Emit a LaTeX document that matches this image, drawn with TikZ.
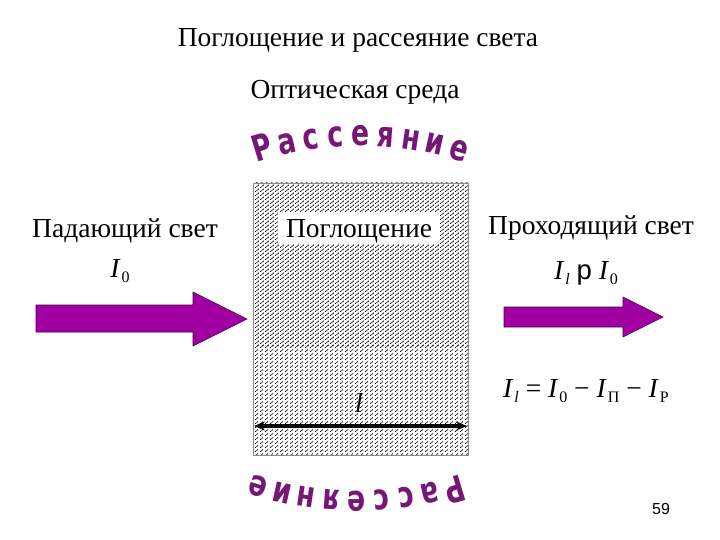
\documentclass[tikz,border=0pt]{standalone}
\usepackage{fontspec}
\setmainfont{Liberation Serif}
\newfontfamily\arcfont{DejaVu Sans}
\newfontfamily\sansp{Liberation Sans}
\usetikzlibrary{arrows.meta,patterns.meta}
\definecolor{arcpurple}{RGB}{118,22,118}
\definecolor{arrowfill}{RGB}{160,0,162}
\definecolor{arrowedge}{RGB}{70,0,70}
\pgfdeclarepattern{name=weavedark,type=uncolored,
  bottom left={\pgfpoint{0pt}{0pt}},top right={\pgfpoint{5pt}{4pt}},
  tile size={\pgfpoint{5pt}{4pt}},
  code={\pgfpathrectangle{\pgfpoint{0pt}{0pt}}{\pgfpoint{1.1pt}{1.1pt}}
        \pgfpathrectangle{\pgfpoint{1pt}{1pt}}{\pgfpoint{1.1pt}{1.1pt}}
        \pgfpathrectangle{\pgfpoint{2.5pt}{2pt}}{\pgfpoint{1.1pt}{1.1pt}}
        \pgfpathrectangle{\pgfpoint{3.5pt}{3pt}}{\pgfpoint{1.1pt}{1.1pt}}
        \pgfusepath{fill}}}
\pgfdeclarepattern{name=weavelight,type=uncolored,
  bottom left={\pgfpoint{0pt}{0pt}},top right={\pgfpoint{5pt}{4pt}},
  tile size={\pgfpoint{5pt}{4pt}},
  code={\pgfpathrectangle{\pgfpoint{0pt}{0pt}}{\pgfpoint{1.1pt}{1.1pt}}
        \pgfpathrectangle{\pgfpoint{1pt}{1pt}}{\pgfpoint{1.1pt}{1.1pt}}
        \pgfpathrectangle{\pgfpoint{2.5pt}{2pt}}{\pgfpoint{1.1pt}{1.1pt}}
        \pgfusepath{fill}}}
\newcommand\Iv[1]{\textit{I}\kern1pt\raisebox{-0.4ex}{\fontsize{16}{16}\selectfont #1}}
\tikzset{
  txt/.style={inner sep=0pt,anchor=base,font=\fontsize{27.5}{30}\selectfont},
  arcletter/.style={inner sep=0pt,anchor=base,text=arcpurple,
     font=\arcfont\bfseries\fontsize{36}{38}\selectfont},
  blockarrow/.style={fill=arrowfill,draw=arrowedge,line width=0.6pt,line join=miter},
}
\begin{document}
\begin{tikzpicture}[x=1pt,y=-1pt]
\useasboundingbox (0,0) rectangle (720,540);
% titles
\node[txt] (title) at (358,47) {Поглощение и рассеяние света};
\node[txt] (medium) at (355,99) {Оптическая среда};
% medium box
\fill[pattern=weavedark,pattern color=black] (253,183) rectangle (468,345);
\fill[pattern=weavelight,pattern color=black] (253,345) rectangle (468,455);
\draw[black!45,line width=0.8pt] (253,183) rectangle (468,455);
\node[fill=white,minimum width=162pt,minimum height=31pt,inner sep=0pt] (absbox) at (359,228) {};
\node[txt] (absorb) at (359,237) {Поглощение};
\node[txt] (ell) at (359,412) {\textit{l}};
\coordinate (lenL) at (254,426);
\coordinate (lenR) at (467,426);
\draw[line width=3.2pt,{Stealth[length=11pt,width=9pt]}-{Stealth[length=11pt,width=9pt]}] (lenL) -- (lenR);
% left side
\node[txt] (incident) at (125,237) {Падающий свет};
\node[txt] (I0) at (120,277) {\Iv{0}};
\draw[blockarrow] (36,305) -- (193,305) -- (193,292) -- (247,319) -- (193,346) -- (193,332) -- (36,332) -- cycle;
% right side
\node[txt] (transmitted) at (591,235) {Проходящий свет};
\node[txt] (Il) at (586,279) {\Iv{\textit{l}}\ {\sansp p}\ \Iv{0}};
\draw[blockarrow] (504,307) -- (623,307) -- (623,297) -- (663,317) -- (623,337) -- (623,327) -- (504,327) -- cycle;
\node[txt] (formula) at (586,397) {\Iv{\textit{l}} = \Iv{0} − \Iv{П} − \Iv{Р}};
% page number
\node[inner sep=0pt,anchor=base,font=\sansp\fontsize{16}{18}\selectfont] (page) at (661,514) {59};
% arched text top
\foreach \ch [count=\i] in {Р,а,с,с,е,я,н,и,е}{
  \pgfmathsetmacro\th{(\i-5)*4.2}
  \pgfmathsetmacro\px{361+330*sin(\th)}
  \pgfmathsetmacro\py{146+330*(1-cos(\th))}
  \node[arcletter,rotate=-\th] at (\px,\py) {\scalebox{0.74}[1]{\ch}};
}
% arched text bottom (upside down)
\foreach \ch [count=\i] in {Р,а,с,с,е,я,н,и,е}{
  \pgfmathsetmacro\th{(5-\i)*4.2}
  \pgfmathsetmacro\px{356+330*sin(\th)}
  \pgfmathsetmacro\py{491-330*(1-cos(\th))}
  \node[arcletter,rotate=180+\th] at (\px,\py) {\scalebox{0.74}[1]{\ch}};
}
\end{tikzpicture}
\end{document}
